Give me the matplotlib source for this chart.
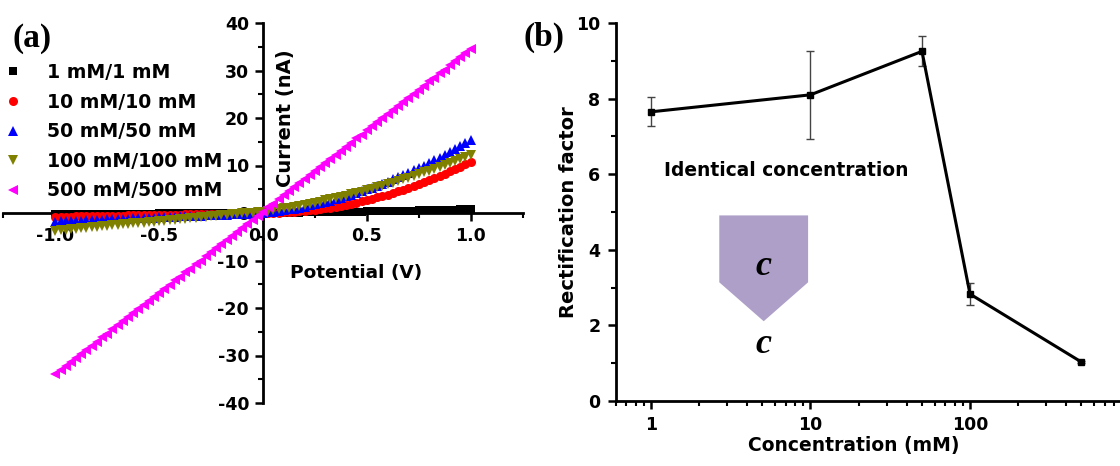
import matplotlib
matplotlib.use("Agg")
import matplotlib.pyplot as plt
from matplotlib.patches import Polygon
from matplotlib.ticker import MultipleLocator, FixedLocator, NullFormatter

plt.rcParams['font.family'] = ['DejaVu Sans']
plt.rcParams['font.weight'] = 'bold'

# ---------------- data: panel (a) ----------------
potential = [-1.0, -0.975, -0.95, -0.925, -0.9, -0.875, -0.85, -0.825, -0.8, -0.775,
             -0.75, -0.725, -0.7, -0.675, -0.65, -0.625, -0.6, -0.575, -0.55, -0.525,
             -0.5, -0.475, -0.45, -0.425, -0.4, -0.375, -0.35, -0.325, -0.3, -0.275,
             -0.25, -0.225, -0.2, -0.175, -0.15, -0.125, -0.1, -0.075, -0.05, -0.025,
             0.0, 0.025, 0.05, 0.075, 0.1, 0.125, 0.15, 0.175, 0.2, 0.225,
             0.25, 0.275, 0.3, 0.325, 0.35, 0.375, 0.4, 0.425, 0.45, 0.475,
             0.5, 0.525, 0.55, 0.575, 0.6, 0.625, 0.65, 0.675, 0.7, 0.725,
             0.75, 0.775, 0.8, 0.825, 0.85, 0.875, 0.9, 0.925, 0.95, 0.975, 1.0]

current_1mM = [-0.20, -0.20, -0.19, -0.19, -0.18, -0.18, -0.17, -0.17, -0.16, -0.16,
               -0.15, -0.15, -0.14, -0.14, -0.13, -0.13, -0.12, -0.12, -0.11, -0.11,
               -0.10, -0.10, -0.09, -0.09, -0.08, -0.08, -0.07, -0.07, -0.06, -0.06,
               -0.05, -0.05, -0.04, -0.04, -0.03, -0.03, -0.02, -0.02, -0.01, -0.01,
               0.00, 0.01, 0.03, 0.04, 0.05, 0.07, 0.08, 0.10, 0.11, 0.13,
               0.14, 0.16, 0.18, 0.19, 0.21, 0.23, 0.25, 0.27, 0.29, 0.31,
               0.33, 0.35, 0.37, 0.39, 0.41, 0.43, 0.45, 0.47, 0.50, 0.52,
               0.54, 0.57, 0.59, 0.62, 0.64, 0.67, 0.69, 0.72, 0.75, 0.77, 0.80]

current_10mM = [-0.80, -0.78, -0.76, -0.74, -0.72, -0.70, -0.68, -0.66, -0.64, -0.62,
                -0.60, -0.58, -0.56, -0.54, -0.52, -0.50, -0.48, -0.46, -0.44, -0.42,
                -0.40, -0.38, -0.36, -0.34, -0.32, -0.30, -0.28, -0.26, -0.24, -0.22,
                -0.20, -0.18, -0.16, -0.14, -0.12, -0.10, -0.08, -0.06, -0.04, -0.02,
                0.00, 0.01, 0.03, 0.06, 0.11, 0.17, 0.24, 0.33, 0.43, 0.55,
                0.68, 0.82, 0.97, 1.14, 1.32, 1.52, 1.73, 1.95, 2.19, 2.44,
                2.70, 2.98, 3.27, 3.57, 3.89, 4.22, 4.56, 4.92, 5.29, 5.68,
                6.08, 6.49, 6.91, 7.35, 7.80, 8.27, 8.75, 9.24, 9.75, 10.27, 10.80]

current_50mM = [-1.80, -1.76, -1.71, -1.67, -1.62, -1.58, -1.53, -1.49, -1.44, -1.40,
                -1.35, -1.31, -1.26, -1.22, -1.17, -1.13, -1.08, -1.04, -0.99, -0.95,
                -0.90, -0.86, -0.81, -0.77, -0.72, -0.68, -0.63, -0.59, -0.54, -0.50,
                -0.45, -0.41, -0.36, -0.32, -0.27, -0.23, -0.18, -0.14, -0.09, -0.05,
                0.00, 0.12, 0.26, 0.41, 0.57, 0.74, 0.93, 1.13, 1.35, 1.58,
                1.82, 2.07, 2.34, 2.63, 2.92, 3.23, 3.55, 3.89, 4.24, 4.60,
                4.98, 5.36, 5.77, 6.18, 6.61, 7.06, 7.51, 7.98, 8.46, 8.96,
                9.47, 9.99, 10.53, 11.08, 11.64, 12.22, 12.81, 13.41, 14.03, 14.66, 15.30]

current_100mM = [-3.7, -3.6, -3.5, -3.4, -3.3, -3.2, -3.1, -3.0, -2.9, -2.8,
                 -2.7, -2.6, -2.5, -2.4, -2.3, -2.2, -2.1, -2.0, -1.9, -1.8,
                 -1.7, -1.6, -1.5, -1.4, -1.3, -1.2, -1.1, -1.0, -0.9, -0.8,
                 -0.7, -0.6, -0.5, -0.4, -0.3, -0.2, -0.1, 0.0, 0.1, 0.2,
                 0.30, 0.45, 0.62, 0.78, 0.96, 1.14, 1.34, 1.53, 1.74, 1.95,
                 2.18, 2.40, 2.64, 2.88, 3.14, 3.39, 3.66, 3.93, 4.22, 4.50,
                 4.80, 5.10, 5.42, 5.73, 6.06, 6.39, 6.74, 7.08, 7.44, 7.80,
                 8.18, 8.55, 8.94, 9.33, 9.74, 10.14, 10.56, 10.98, 11.42, 11.85, 12.30]

current_500mM = [-33.9, -33.0, -32.2, -31.3, -30.5, -29.6, -28.8, -27.9, -27.1, -26.2,
                 -25.4, -24.5, -23.6, -22.8, -21.9, -21.1, -20.2, -19.4, -18.5, -17.7,
                 -16.8, -15.9, -15.1, -14.2, -13.4, -12.5, -11.7, -10.8, -10.0, -9.1,
                 -8.3, -7.4, -6.5, -5.7, -4.8, -4.0, -3.1, -2.3, -1.4, -0.6,
                 0.3, 1.2, 2.0, 2.9, 3.7, 4.6, 5.4, 6.3, 7.1, 8.0,
                 8.9, 9.7, 10.6, 11.4, 12.3, 13.1, 14.0, 14.8, 15.7, 16.5,
                 17.4, 18.3, 19.1, 20.0, 20.8, 21.7, 22.5, 23.4, 24.2, 25.1,
                 26.0, 26.8, 27.7, 28.5, 29.4, 30.2, 31.1, 31.9, 32.8, 33.6, 34.5]

series_labels = ['1 mM/1 mM', '10 mM/10 mM', '50 mM/50 mM', '100 mM/100 mM', '500 mM/500 mM']
series_values = [current_1mM, current_10mM, current_50mM, current_100mM, current_500mM]
series_colors = ['#000000', '#ff0000', '#0000ff', '#808000', '#ff00ff']
series_markers = ['s', 'o', '^', 'v', '<']
series_msize = [5.5, 6.5, 7.5, 7.5, 7.5]

x_ticks_a = [-1.0, -0.5, 0.0, 0.5, 1.0]
y_ticks_a = [-40, -30, -20, -10, 0, 10, 20, 30, 40]

# ---------------- data: panel (b) ----------------
concentration = [1, 10, 50, 100, 500]
rectification = [7.65, 8.10, 9.25, 2.83, 1.03]
rect_error = [0.38, 1.16, 0.40, 0.28, 0.03]
x_ticks_b = [1, 10, 100]
x_ticklabels_b = ['1', '10', '100']
y_ticks_b = [0, 2, 4, 6, 8, 10]

# ---------------- figure ----------------
W, H = 1120, 466
fig = plt.figure(figsize=(W / 100, H / 100), dpi=100)

def frac_box(x0, y_top, x1, y_bot):
    return [x0 / W, 1 - y_bot / H, (x1 - x0) / W, (y_bot - y_top) / H]

# ---- panel (a)
axa = fig.add_axes(frac_box(3.4, 23, 522.6, 403))
for vals, lab, col, mk, ms in zip(series_values, series_labels, series_colors,
                                  series_markers, series_msize):
    axa.plot(potential, vals, linestyle='none', marker=mk, ms=ms, color=col,
             markeredgewidth=0, label=lab, zorder=3)

axa.set_xlim(-1.25, 1.25)
axa.set_ylim(-40, 40)
axa.spines['left'].set_position(('data', 0))
axa.spines['bottom'].set_position(('data', 0))
axa.spines['top'].set_visible(False)
axa.spines['right'].set_visible(False)
for s in ('left', 'bottom'):
    axa.spines[s].set_linewidth(2.0)
    axa.spines[s].set_zorder(2)
axa.xaxis.set_major_locator(FixedLocator(x_ticks_a))
axa.xaxis.set_minor_locator(MultipleLocator(0.25))
axa.yaxis.set_major_locator(FixedLocator(y_ticks_a))
axa.yaxis.set_minor_locator(MultipleLocator(5))
axa.set_xticklabels([f'{v:.1f}' for v in x_ticks_a])
axa.set_yticklabels([str(v) for v in y_ticks_a])
axa.tick_params(which='major', direction='out', length=6, width=1.8, labelsize=12.5, pad=4)
axa.tick_params(which='minor', direction='out', length=3.5, width=1.5)
axa.set_xlabel('Potential (V)', fontsize=13.3, fontweight='bold')
axa.set_ylabel('Current (nA)', fontsize=14, fontweight='bold')
axa.xaxis.set_label_coords((356 - 3.4) / 519.2, (403 - 273) / 380)
axa.xaxis.label.set_va('center')
axa.yaxis.set_label_coords((285 - 3.4) / 519.2, (403 - 118) / 380)
axa.yaxis.label.set_va('center')
axa.patch.set_alpha(0)

leg = axa.legend(loc='upper left', bbox_to_anchor=(3.5 / W, 1 - 63 / H),
                 bbox_transform=fig.transFigure, frameon=False, numpoints=1,
                 handlelength=1.0, handletextpad=1.3, labelspacing=0.56,
                 borderpad=0, borderaxespad=0,
                 prop={'size': 13.6, 'weight': 'bold'})

fig.text(32.5 / W, 1 - 39 / H, '(a)', family='Liberation Serif', fontweight='bold',
         fontsize=24, ha='center', va='center')

# ---- panel (b)
axb = fig.add_axes(frac_box(615.6, 23, 1129.5, 401))
axb.errorbar(concentration, rectification, yerr=rect_error, color='black', lw=2.2,
             marker='s', ms=5, ecolor='#444444', elinewidth=1.0, capsize=3, capthick=1.0,
             zorder=3)
axb.set_xscale('log')
axb.set_xlim(0.6, 1000)
axb.set_ylim(0, 10)
axb.spines['top'].set_visible(False)
axb.spines['right'].set_visible(False)
for s in ('left', 'bottom'):
    axb.spines[s].set_linewidth(2.0)
axb.set_xticks(x_ticks_b)
axb.set_xticklabels(x_ticklabels_b)
axb.xaxis.set_minor_formatter(NullFormatter())
axb.yaxis.set_major_locator(FixedLocator(y_ticks_b))
axb.yaxis.set_minor_locator(MultipleLocator(1))
axb.tick_params(which='major', direction='out', length=6, width=1.8, labelsize=12.5, pad=5)
axb.tick_params(which='minor', direction='out', length=3.5, width=1.5)
axb.set_xlabel('Concentration (mM)', fontsize=13.5, fontweight='bold')
axb.set_ylabel('Rectification factor', fontsize=14, fontweight='bold')
axb.xaxis.set_label_coords((854 - 615.6) / 513.9, (401 - 445) / 378)
axb.xaxis.label.set_va('center')
axb.yaxis.set_label_coords((568 - 615.6) / 513.9, 0.5)
axb.yaxis.label.set_va('center')

axb.text(7.0, 6.11, 'Identical concentration', fontsize=13.4, fontweight='bold',
         ha='center', va='center')
arrow_shape = Polygon([(2.68, 4.91), (9.66, 4.91), (9.66, 3.14), (5.09, 2.11), (2.68, 3.14)],
                      closed=True, facecolor='#ae9fc8', edgecolor='none', zorder=1)
axb.add_patch(arrow_shape)
axb.text(5.09, 3.55, 'c', family='Liberation Serif', fontstyle='italic', fontweight='bold',
         fontsize=26, ha='center', va='center', zorder=2)
axb.text(5.09, 1.50, 'c', family='Liberation Serif', fontstyle='italic', fontweight='bold',
         fontsize=26, ha='center', va='center', zorder=2)

fig.text(544 / W, 1 - 37 / H, '(b)', family='Liberation Serif', fontweight='bold',
         fontsize=24, ha='center', va='center')

fig.savefig('out.png', dpi=100)
